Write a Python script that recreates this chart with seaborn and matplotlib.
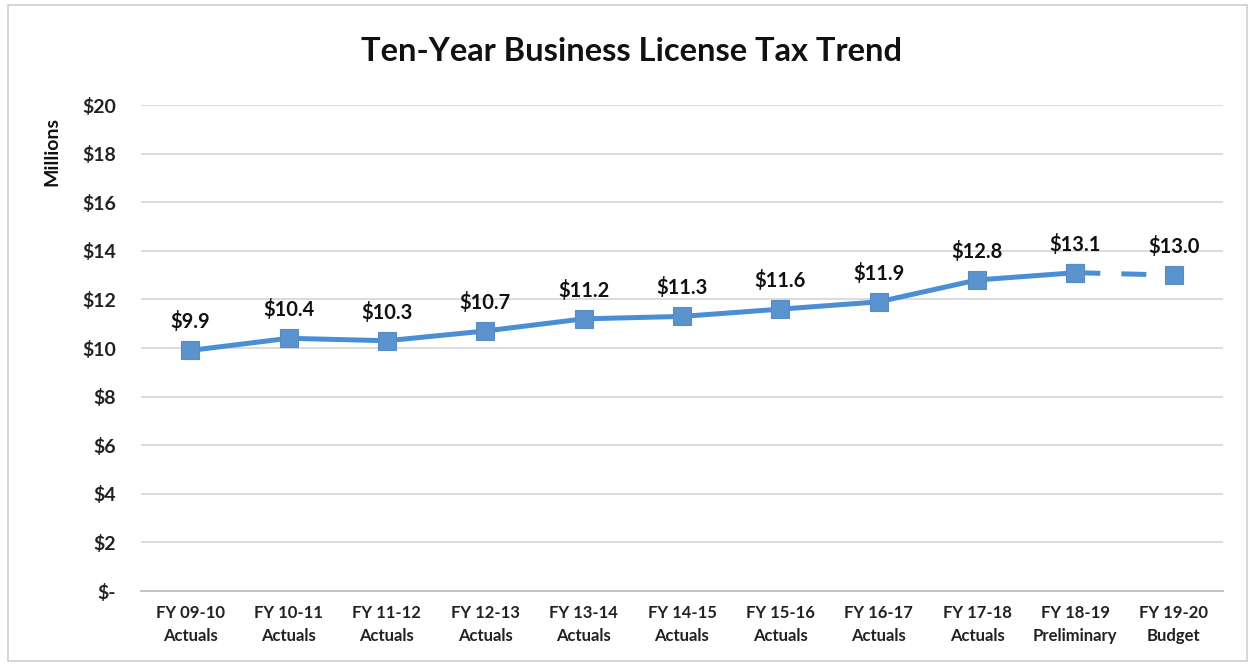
import matplotlib
matplotlib.use("Agg")
import matplotlib.pyplot as plt
import seaborn as sns
import pandas as pd
from matplotlib.patches import Rectangle

years = ["FY 09-10", "FY 10-11", "FY 11-12", "FY 12-13", "FY 13-14", "FY 14-15",
         "FY 15-16", "FY 16-17", "FY 17-18", "FY 18-19", "FY 19-20"]
stages = ["Actuals"] * 9 + ["Preliminary", "Budget"]
revenue = [9.9, 10.4, 10.3, 10.7, 11.2, 11.3, 11.6, 11.9, 12.8, 13.1, 13.0]
y_ticks = [0, 2, 4, 6, 8, 10, 12, 14, 16, 18, 20]

sns.set_theme(style="white")
plt.rcParams["font.family"] = ["Lato", "DejaVu Sans"]

labels = [f"{y}\n{s}" for y, s in zip(years, stages)]
df = pd.DataFrame({"pos": range(len(years)), "value": revenue})
solid = df.iloc[:10]
dashed = df.iloc[9:]

blue = "#4A8FD6"
marker_kw = dict(marker="s", markersize=13, markeredgecolor="#5A8CC4",
                 markerfacecolor="#5B93CF", markeredgewidth=0.8)

fig = plt.figure(figsize=(12.55, 6.66), dpi=100)
ax = fig.add_axes([0.1124, 0.1126, 0.862, 0.7297])

sns.lineplot(data=solid, x="pos", y="value", ax=ax, color=blue, linewidth=3.6,
             **marker_kw)
sns.lineplot(data=dashed, x="pos", y="value", ax=ax, color=blue, linewidth=3.6,
             linestyle=(0, (5, 4.2)), **marker_kw)

for i, v in enumerate(revenue):
    ax.annotate(f"${v:.1f}", (i, v), xytext=(0, 13), textcoords="offset points",
                ha="center", va="bottom", fontsize=14.5, fontweight="bold",
                color="#111111")

ax.set_xlim(-0.5, len(years) - 0.5)
ax.set_ylim(0, 20)
ax.set_yticks(y_ticks)
ax.set_yticklabels(["$-"] + [f"${t}" for t in y_ticks[1:]], fontsize=14,
                   fontweight="bold", color="#222222")
ax.set_xticks(range(len(years)))
ax.set_xticklabels(labels, fontsize=12, fontweight="bold", color="#222222",
                   linespacing=1.55)
ax.tick_params(axis="y", length=0, pad=18)
ax.tick_params(axis="x", length=0, pad=10)

ax.grid(axis="y", color="#D9D9D9", linewidth=1.3)
ax.set_axisbelow(True)
for s in ["left", "right", "top"]:
    ax.spines[s].set_visible(False)
ax.spines["bottom"].set_color("#BFBFBF")
ax.spines["bottom"].set_linewidth(1.3)

ax.set_xlabel("")
ax.set_ylabel("Millions", fontsize=14, fontweight="bold", color="#111111")
ax.yaxis.set_label_coords(-0.075, 0.905)

fig.text(0.503, 0.923, "Ten-Year Business License Tax Trend", ha="center",
         va="center", fontsize=23.5, fontweight="bold", color="#111111")

fig.patches.append(Rectangle((0.006, 0.008), 0.988, 0.985, transform=fig.transFigure,
                             fill=False, edgecolor="#D0D0D0", linewidth=1.2))

fig.savefig("out.png", dpi=100)
